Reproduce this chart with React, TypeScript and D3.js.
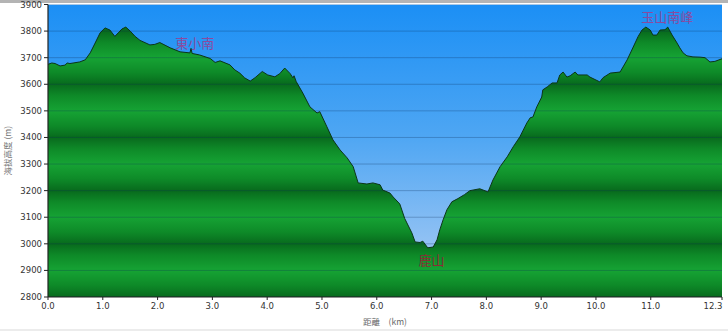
import React from "react";
import * as d3 from "d3";

const distKm = [
  0.0, 0.07, 0.13, 0.22, 0.31, 0.35, 0.4, 0.58, 0.68, 0.77, 0.86, 0.95, 1.04, 1.13, 1.22, 1.28, 1.35, 1.42, 1.5, 1.59,
  1.68, 1.86, 1.95, 2.04, 2.23, 2.41, 2.59, 2.61, 2.63, 2.77, 2.96, 3.05, 3.14, 3.32, 3.41, 3.5, 3.59, 3.69, 3.78, 3.91,
  4.01, 4.14, 4.23, 4.32, 4.42, 4.47, 4.49, 4.53, 4.65, 4.78, 4.91, 4.96, 5.09, 5.2, 5.33, 5.46, 5.57, 5.66, 5.82, 5.93,
  6.06, 6.11, 6.24, 6.3, 6.42, 6.51, 6.64, 6.7, 6.79, 6.84, 6.93, 7.03, 7.1, 7.15, 7.21, 7.28, 7.37, 7.48, 7.6, 7.7,
  7.88, 8.03, 8.12, 8.25, 8.38, 8.49, 8.61, 8.74, 8.8, 8.85, 8.92, 9.01, 9.03, 9.11, 9.2, 9.29, 9.34, 9.4, 9.47, 9.53,
  9.62, 9.67, 9.84, 9.89, 10.07, 10.13, 10.26, 10.44, 10.57, 10.68, 10.77, 10.84, 10.91, 10.99, 11.04, 11.11, 11.17, 11.26, 11.31, 11.39,
  11.48, 11.53, 11.59, 11.66, 11.77, 11.9, 11.99, 12.08, 12.17, 12.3,
];
const elevM = [
  3675, 3680, 3678, 3669, 3672, 3680, 3678, 3684, 3692, 3718, 3755, 3793, 3812, 3804, 3780, 3793, 3808, 3815, 3800, 3780,
  3765, 3748, 3750, 3757, 3737, 3722, 3718, 3735, 3716, 3710, 3697, 3682, 3688, 3673, 3654, 3642, 3624, 3612, 3625, 3648,
  3635, 3628, 3640, 3661, 3640, 3624, 3632, 3610, 3567, 3515, 3492, 3497, 3440, 3391, 3353, 3323, 3290, 3229, 3225, 3229,
  3222, 3202, 3191, 3176, 3150, 3095, 3041, 3007, 3005, 3010, 2985, 2988, 3015, 3053, 3090, 3128, 3158, 3170, 3185, 3200,
  3207, 3195, 3240, 3290, 3327, 3365, 3402, 3455, 3474, 3477, 3515, 3552, 3579, 3590, 3605, 3605, 3635, 3646, 3627, 3632,
  3646, 3635, 3635, 3627, 3609, 3625, 3642, 3646, 3692, 3740, 3780, 3804, 3815, 3804, 3785, 3785, 3804, 3805, 3815, 3785,
  3755, 3737, 3718, 3707, 3703, 3702, 3700, 3684, 3686, 3696,
];

const xTickValues = [0, 1, 2, 3, 4, 5, 6, 7, 8, 9, 10, 11, 12.3];
const yTickValues = [2800, 2900, 3000, 3100, 3200, 3300, 3400, 3500, 3600, 3700, 3800, 3900];

const labelNames = ["東小南", "玉山南峰", "鹿山"];
const labelKm = [2.68, 11.3, 7.0];
const labelElev = [3737, 3834, 2921];
const labelColors = ["#8a4a9e", "#8a4a9e", "#8b2c36"];

const W = 728;
const H = 331;
const M = { left: 48, right: 6, top: 4.5, bottom: 34 };

export default function App() {
  const x = d3.scaleLinear().domain([0, 12.3]).range([M.left, W - M.right]);
  const y = d3.scaleLinear().domain([2800, 3900]).range([H - M.bottom, M.top]);
  const pts = distKm.map((d, i) => [d, elevM[i]] as [number, number]);
  const area = d3
    .area<[number, number]>()
    .x((d) => x(d[0]))
    .y0(y(2800))
    .y1((d) => y(d[1]));
  const line = d3
    .line<[number, number]>()
    .x((d) => x(d[0]))
    .y((d) => y(d[1]));
  const band = y(3800) - y(4000); // 200 m in px
  const plotW = x(12.3) - x(0);
  const plotH = y(2800) - y(3900);

  return (
    <svg
      width={W}
      height={H}
      style={{ position: "absolute", left: 0, top: 0, display: "block", background: "#fff" }}
      fontFamily="DejaVu Sans, Verdana, sans-serif"
    >
      <defs>
        <linearGradient id="sky" x1="0" y1="0" x2="0" y2="1">
          <stop offset="0%" stopColor="#1b8ff5" />
          <stop offset="45%" stopColor="#4ea6f3" />
          <stop offset="100%" stopColor="#b3cff4" />
        </linearGradient>
        <pattern id="greenBands" patternUnits="userSpaceOnUse" x={0} y={y(3800)} width={W} height={band}>
          <rect x={0} y={0} width={W} height={band} fill="url(#bandGrad)" />
        </pattern>
        <linearGradient id="bandGrad" x1="0" y1="0" x2="0" y2="1">
          <stop offset="0%" stopColor="#086a1d" />
          <stop offset="22%" stopColor="#0e8a28" />
          <stop offset="50%" stopColor="#16a334" />
          <stop offset="78%" stopColor="#0e8a28" />
          <stop offset="100%" stopColor="#086a1d" />
        </linearGradient>
        <clipPath id="plotClip">
          <rect x={x(0)} y={y(3900)} width={plotW} height={plotH} />
        </clipPath>
      </defs>

      <rect x={0} y={0} width={W} height={3} fill="#b4b4b4" />
      <rect x={0} y={329} width={W} height={2} fill="#ececec" />

      <g clipPath="url(#plotClip)">
        <rect x={x(0)} y={y(3900)} width={plotW} height={plotH} fill="url(#sky)" />
        <path d={area(pts) || ""} fill="url(#greenBands)" />
        {yTickValues.map((v) => (
          <line key={v} x1={x(0)} x2={x(12.3)} y1={y(v)} y2={y(v)} stroke="#0a2a55" strokeOpacity={0.28} strokeWidth={1} />
        ))}
        <path d={line(pts) || ""} fill="none" stroke="#0c3518" strokeWidth={1} />
      </g>

      {labelNames.map((n, i) => (
        <text
          key={n}
          x={x(labelKm[i])}
          y={y(labelElev[i])}
          textAnchor="middle"
          fontSize={13}
          fontFamily="Noto Sans CJK TC, sans-serif"
          fill={labelColors[i]}
        >
          {n}
        </text>
      ))}

      {/* axes */}
      <line x1={x(0)} x2={x(0)} y1={y(3900)} y2={y(2800)} stroke="#222" strokeWidth={1.2} />
      <line x1={x(0)} x2={x(12.3)} y1={y(2800)} y2={y(2800)} stroke="#222" strokeWidth={1.2} />
      {yTickValues.map((v) => (
        <g key={v}>
          <line x1={x(0) - 4} x2={x(0)} y1={y(v)} y2={y(v)} stroke="#222" />
          <text x={x(0) - 6} y={y(v) + 3} textAnchor="end" fontSize={8.5} fill="#333">
            {v}
          </text>
        </g>
      ))}
      {xTickValues.map((v, i) => (
        <g key={v}>
          <line x1={x(v)} x2={x(v)} y1={y(2800)} y2={y(2800) + 3} stroke="#222" />
          <text
            x={i === xTickValues.length - 1 ? x(v) - 9 : x(v)}
            y={y(2800) + 12}
            textAnchor="middle"
            fontSize={8.5}
            fill="#333"
          >
            {v.toFixed(1)}
          </text>
        </g>
      ))}
      <text x={385} y={325} textAnchor="middle" fontSize={8.5} fill="#666" fontFamily="Noto Sans CJK TC, sans-serif">
        距離　(km)
      </text>
      <text
        transform={`translate(11,${(y(3900) + y(2800)) / 2}) rotate(-90)`}
        textAnchor="middle"
        fontSize={8.5}
        fill="#777"
        fontFamily="Noto Sans CJK TC, sans-serif"
      >
        海拔高度 (m)
      </text>
    </svg>
  );
}
